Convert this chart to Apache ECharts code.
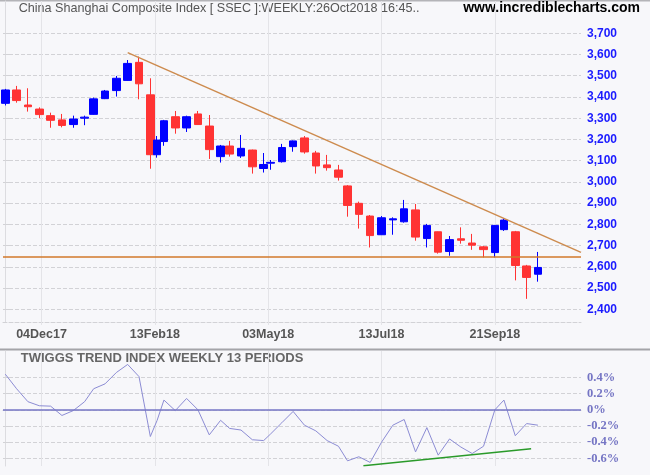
<!DOCTYPE html>
<html><head><meta charset="utf-8">
<script src="https://cdn.jsdelivr.net/npm/echarts@6/dist/echarts.min.js"></script>
<style>html,body{margin:0;padding:0;background:#f7f7fa}#c{width:650px;height:475px}</style>
</head><body><div id="c"></div>
<script>
// ---- data ----
const weekEnding = ['10Nov17','17Nov17','24Nov17','01Dec17','08Dec17','15Dec17','22Dec17','29Dec17',
  '05Jan18','12Jan18','19Jan18','26Jan18','02Feb18','09Feb18','14Feb18','23Feb18',
  '02Mar18','09Mar18','16Mar18','23Mar18','30Mar18','04Apr18','13Apr18','20Apr18','27Apr18',
  '04May18','11May18','18May18','25May18','01Jun18','08Jun18','15Jun18','22Jun18','29Jun18',
  '06Jul18','13Jul18','20Jul18','27Jul18','03Aug18','10Aug18','17Aug18','24Aug18','31Aug18',
  '07Sep18','14Sep18','21Sep18','28Sep18','12Oct18','19Oct18','26Oct18'];
// trading days in each week (the chart spaces weekly bars by trading days)
const weekTradingDays = [5,5,5,5,5,5,5,5, 4,5,5,5,5,5,3,3, 5,5,5,5,5,4,5,5,5,
  3,5,5,5,5,5,5,4,5, 5,5,5,5,5,5,5,5,5, 5,5,5,4,5,5,5];
const openPx  = [3370,3433,3362,3343,3312,3292,3270,3300, 3318,3392,3430,3478,3563,3410,3128,3190,
  3307,3254,3320,3263,3119,3169,3122,3150,3063, 3088,3095,3166,3207,3136,3080,3056,2981,2899,
  2839,2751,2821,2812,2868,2733,2765,2672,2732, 2712,2694,2667,2775,2765,2604,2565];
const highPx  = [3438,3452,3441,3351,3326,3320,3312,3312, 3397,3433,3499,3574,3590,3488,3216,3292,
  3334,3312,3334,3315,3174,3193,3221,3152,3136, 3103,3179,3195,3216,3146,3127,3080,2985,2907,
  2844,2839,2833,2915,2896,2802,2766,2745,2786, 2755,2698,2797,2829,2769,2609,2670];
const lowPx   = [3360,3373,3331,3301,3255,3257,3255,3267, 3316,3390,3402,3477,3389,3062,3114,3170,
  3227,3235,3268,3108,3091,3119,3113,3039,3044, 3057,3091,3142,3133,3039,3053,3006,2836,2780,
  2691,2750,2751,2808,2723,2691,2662,2652,2709, 2680,2644,2644,2769,2536,2449,2530];
const closePx = [3433,3383,3354,3317,3290,3266,3296,3305, 3391,3428,3488,3558,3462,3128,3197,3288,
  3254,3307,3270,3152,3169,3131,3158,3071,3082, 3092,3162,3193,3141,3075,3067,3022,2889,2847,
  2747,2831,2826,2873,2740,2795,2669,2728,2725, 2702,2681,2795,2820,2606,2550,2597];
const ttiPct = [0.44,0.26,0.10,0.05,0.045,-0.07,-0.01,0.10, 0.26,0.32,0.46,0.56,0.41,-0.33,-0.13,0.12,
  -0.01,0.14,0.0,-0.31,-0.13,-0.23,-0.25,-0.37,-0.38, -0.30,-0.16,-0.02,-0.19,-0.26,-0.38,-0.45,-0.63,-0.58,
  -0.65,-0.40,-0.19,-0.12,-0.52,-0.22,-0.56,-0.36,-0.46, -0.54,-0.45,0.0,0.12,-0.32,-0.17,-0.19];
// date ticks, in trading days after the first week's close
const dateTickDays = [16, 66, 116, 166, 216];
const dateTickLabels = ['04Dec17','13Feb18','03May18','13Jul18','21Sep18'];
const priceTicks = [2400,2500,2600,2700,2800,2900,3000,3100,3200,3300,3400,3500,3600,3700];
const ttiTicks = [-0.6,-0.4,-0.2,0,0.2,0.4];
// annotations: [trading day, value]
const priceTrend = [[54,3609],[254,2668]];
const priceSupport = 2645;
const ttiTrend = [[158,-0.69],[232,-0.48]];

// ---- build ----
const xDay = [];
let acc = 0;
weekTradingDays.forEach((d, i) => { if (i > 0) acc += d; xDay.push(acc); });
const candles = xDay.map((x, i) => [x, openPx[i], closePx[i], lowPx[i], highPx[i]]);
const ttiLine = xDay.map((x, i) => [x, ttiPct[i]]);

const SANS = "'Liberation Sans', Arial, sans-serif";
const SERIF = "'Liberation Serif', 'Times New Roman', serif";
const gridV = '#e4e4e8';
const gridH = '#d2d2d6';

function fmtPrice(v) { return String(Math.round(v)).replace(/\B(?=(\d{3})+(?!\d))/g, ','); }
function fmtPct(v) { const r = Math.round(v * 10) / 10; return (r === 0 ? '0' : r.toFixed(1)) + '%'; }
function dateLabel(v) { const i = dateTickDays.indexOf(Math.round(v)); return i >= 0 ? dateTickLabels[i] : ''; }

const chart = echarts.init(document.getElementById('c'), null, { renderer: 'canvas' });
chart.setOption({
  animation: false,
  backgroundColor: '#f7f7fa',
  grid: [
    { left: 3, right: 69, top: 1, height: 321 },
    { left: 3, right: 69, top: 351, height: 115 }
  ],
  xAxis: [
    { type: 'value', gridIndex: 0, min: -1, max: 254,
      axisLine: { show: true, lineStyle: { color: gridH, type: 'dashed' } },
      axisTick: { show: true, length: 3, customValues: dateTickDays, lineStyle: { color: gridV } },
      axisLabel: { customValues: dateTickDays, formatter: dateLabel, margin: 6,
        color: '#555', fontFamily: SANS, fontSize: 12.5, fontWeight: 'bold' },
      splitLine: { show: true, lineStyle: { color: gridV, type: 'solid' } } },
    { type: 'value', gridIndex: 1, min: -1, max: 254,
      axisLine: { show: true, lineStyle: { color: gridH, type: 'dashed' } },
      axisTick: { show: true, length: 6, customValues: dateTickDays, lineStyle: { color: gridV } },
      axisLabel: { show: false, customValues: dateTickDays },
      splitLine: { show: true, lineStyle: { color: gridV, type: 'solid' } } }
  ],
  yAxis: [
    { type: 'value', gridIndex: 0, position: 'right', min: 2340, max: 3852,
      axisLine: { show: true, lineStyle: { color: '#dcdce0' } },
      axisTick: { show: true, length: 5, customValues: priceTicks, lineStyle: { color: gridH, type: 'dashed' } },
      axisLabel: { customValues: priceTicks, formatter: fmtPrice, margin: 6,
        color: '#1a1aff', fontFamily: SANS, fontSize: 12, fontWeight: 'bold' },
      splitLine: { show: true, lineStyle: { color: gridH, type: 'dashed' } } },
    { type: 'value', gridIndex: 1, position: 'right', min: -0.694, max: 0.726,
      axisLine: { show: true, lineStyle: { color: '#dcdce0' } },
      axisTick: { show: true, length: 5, customValues: ttiTicks, lineStyle: { color: gridH, type: 'dashed' } },
      axisLabel: { customValues: ttiTicks, formatter: fmtPct, margin: 6,
        color: '#7575c4', fontFamily: SERIF, fontSize: 12.5, fontWeight: 'bold' },
      splitLine: { show: true, lineStyle: { color: gridH, type: 'dashed' } } }
  ],
  series: [
    { type: 'candlestick', xAxisIndex: 0, yAxisIndex: 0, data: candles,
      dimensions: ['x','open','close','lowest','highest'],
      encode: { x: 0, y: [1,2,3,4] },
      barWidth: 8, clip: false,
      itemStyle: { color: '#0000ff', color0: '#ff3333', borderColor: '#0000ff', borderColor0: '#ff3333', borderWidth: 1, opacity: 1 },
      markLine: { silent: true, symbol: 'none', label: { show: false },
        lineStyle: { color: '#d2782a', width: 1.5, type: 'solid' },
        data: [{ yAxis: priceSupport }] } },
    { type: 'line', xAxisIndex: 0, yAxisIndex: 0, data: priceTrend, symbol: 'none', silent: true,
      lineStyle: { color: '#cd8b4e', width: 1.5 } },
    { type: 'line', xAxisIndex: 1, yAxisIndex: 1, data: ttiLine, symbol: 'none', silent: true,
      lineStyle: { color: '#8c8cd4', width: 1 },
      markLine: { silent: true, symbol: 'none', label: { show: false },
        lineStyle: { color: '#7676c6', width: 1.5, type: 'solid' },
        data: [{ yAxis: 0 }] } },
    { type: 'line', xAxisIndex: 1, yAxisIndex: 1, data: ttiTrend, symbol: 'none', silent: true,
      lineStyle: { color: '#2a9a2a', width: 1.5 } }
  ],
  graphic: [
    { type: 'rect', shape: { x: 0, y: 0, width: 650, height: 1.5 }, style: { fill: '#b4b4b8' }, silent: true },
    { type: 'rect', shape: { x: 0, y: 348.5, width: 650, height: 2 }, style: { fill: '#a4a4a8' }, silent: true },
    { type: 'text', x: 18.7, y: 8.5, silent: true,
      style: { text: 'China Shanghai Composite Index [ SSEC ]:WEEKLY:26Oct2018 16:45..', fill: '#555',
        font: '12.6px ' + SANS, textVerticalAlign: 'middle', verticalAlign: 'middle' } },
    { type: 'text', x: 640, y: 8.5, silent: true,
      style: { text: 'www.incrediblecharts.com', fill: '#000', align: 'right', textAlign: 'right',
        font: 'bold 14px ' + SANS, textVerticalAlign: 'middle', verticalAlign: 'middle' } },
    { type: 'text', x: 20.7, y: 358, silent: true,
      style: { text: 'TWIGGS TREND INDEX WEEKLY 13 PERIODS', fill: '#666',
        font: 'bold 13px ' + SANS, textVerticalAlign: 'middle', verticalAlign: 'middle' } }
  ]
});
</script></body></html>
